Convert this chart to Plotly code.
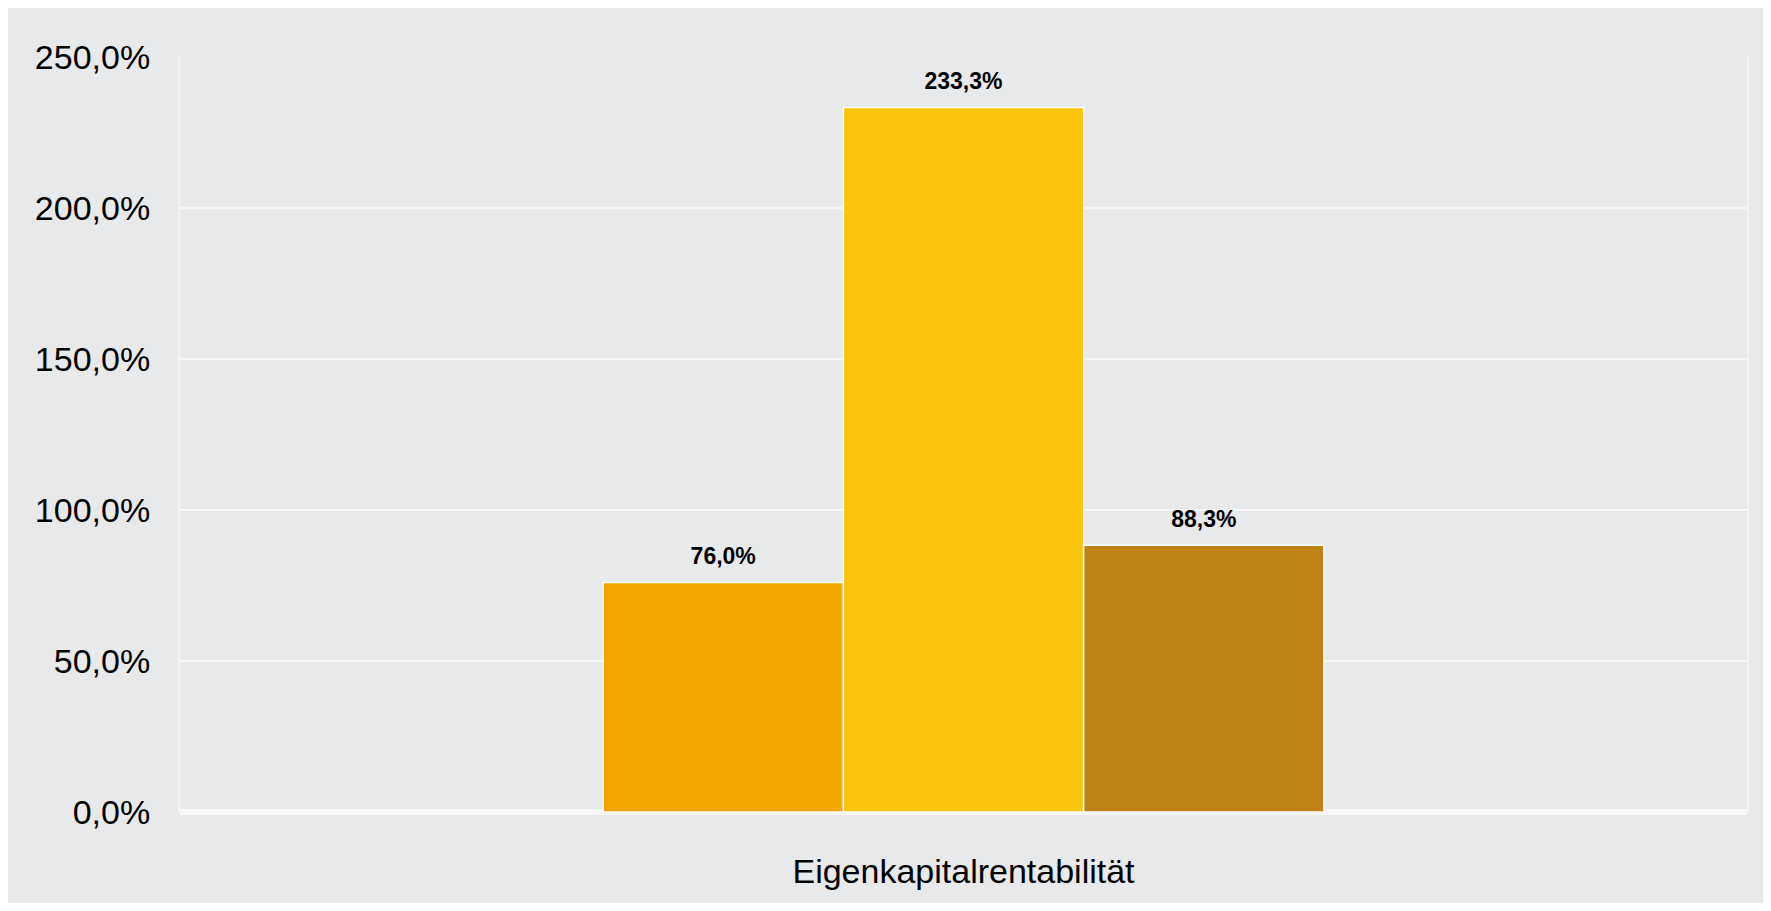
import plotly.graph_objects as go

categories = ["Eigenkapitalrentabilität"]
series_names = ["Serie 1", "Serie 2", "Serie 3"]
series_values = [[76.0], [233.3], [88.3]]
series_colors = ["#F4A600", "#FAC30C", "#BF8214"]
y_ticks = [0, 50, 100, 150, 200, 250]
y_ticktext = [f"{v:.1f}".replace(".", ",") + "%" for v in y_ticks]

FONT = "Liberation Sans, Arial, sans-serif"
GAP = 0.54

fig = go.Figure()
for name, vals, col in zip(series_names, series_values, series_colors):
    fig.add_trace(go.Bar(
        x=categories, y=vals, name=name,
        marker=dict(color=col, line=dict(color="#FFFFFF", width=1.5)),
        showlegend=False, hoverinfo="skip",
    ))
for name, vals in zip(series_names, series_values):
    fig.add_trace(go.Scatter(
        x=categories, y=vals, name=name + " label",
        mode="markers+text",
        marker=dict(size=18, opacity=0, color="rgba(0,0,0,0)"),
        text=[f"{v:.1f}".replace(".", ",") + "%" for v in vals],
        textposition="top center",
        textfont=dict(family=FONT, size=23, color="#000000", weight="bold"),
        showlegend=False, hoverinfo="skip", cliponaxis=False,
    ))

fig.update_layout(
    width=1755, height=895,
    margin=dict(l=172, r=16, t=49, b=91),
    paper_bgcolor="#E8E9EB",
    plot_bgcolor="#E8E9EB",
    barmode="group", bargap=GAP, bargroupgap=0,
    scattermode="group", scattergap=GAP,
    separators=",.",
    font=dict(family=FONT, size=34, color="#000000"),
)
fig.update_xaxes(
    showgrid=False, zeroline=False, showline=False,
    ticks="", ticklabelstandoff=36,
    tickfont=dict(family=FONT, size=34, color="#000000"),
)
fig.update_yaxes(
    range=[0, 250], tickmode="array", tickvals=y_ticks, ticktext=y_ticktext,
    showgrid=True, gridcolor="#F7F7F7", gridwidth=1.5,
    zeroline=True, zerolinecolor="#F7F7F7", zerolinewidth=6,
    showline=True, mirror=True, linecolor="#F3F3F3", linewidth=2,
    ticks="", ticklabelstandoff=21,
    tickfont=dict(family=FONT, size=34, color="#000000"),
)

fig.write_html("out.html")
